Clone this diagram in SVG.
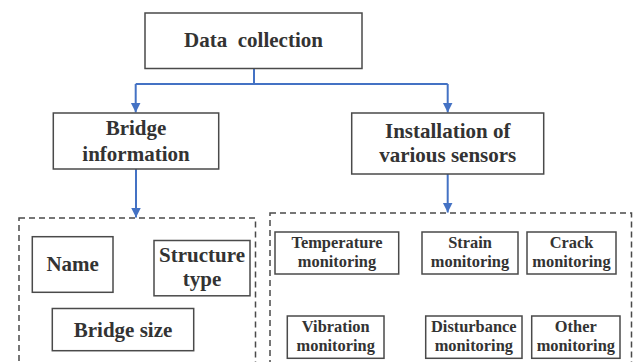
<svg xmlns="http://www.w3.org/2000/svg" width="633" height="362" viewBox="0 0 633 362">
  <style>
    .box { fill: #ffffff; stroke: #4a4a4a; stroke-width: 1.5; }
    .group { fill: none; stroke: #4a4a4a; stroke-width: 1.5; stroke-dasharray: 6 4; }
    .link { fill: none; stroke: #4472c4; stroke-width: 2; }
    text { font-family: "Liberation Serif", "Times New Roman", serif; font-weight: bold; fill: #333333; text-anchor: middle; }
    .big { font-size: 21px; }
    .small { font-size: 16.4px; }
  </style>
  <defs>
    <marker id="arrow" viewBox="0 0 10 12" refX="10" refY="6" markerWidth="10" markerHeight="12" markerUnits="userSpaceOnUse" orient="auto">
      <path d="M0,1 L10,6 L0,11 Z" fill="#4472c4"/>
    </marker>
  </defs>

  <rect width="633" height="362" fill="#ffffff"/>

  <!-- dashed grouping frames (open at the bottom edge) -->
  <g id="frames">
    <rect class="group" x="19" y="218" width="236.5" height="160"/>
    <rect class="group" x="270" y="213" width="361.5" height="165"/>
  </g>

  <!-- connectors -->
  <g id="connectors">
    <path class="link" d="M254,68.5 V84 M135.7,84 H447.7"/>
    <path class="link" d="M135.7,84 V112.5" marker-end="url(#arrow)"/>
    <path class="link" d="M447.7,84 V112.5" marker-end="url(#arrow)"/>
    <path class="link" d="M136,169 V217.5" marker-end="url(#arrow)"/>
    <path class="link" d="M447.7,174 V212.5" marker-end="url(#arrow)"/>
  </g>

  <g id="data-collection">
    <rect class="box" x="145" y="13" width="217" height="55.5"/>
    <text class="big" x="253.5" y="47" xml:space="preserve">Data  collection</text>
  </g>

  <g id="bridge-information">
    <rect class="box" x="53.3" y="113" width="165.4" height="56"/>
    <text class="big" x="136" y="135">Bridge</text>
    <text class="big" x="136" y="160.5">information</text>
  </g>

  <g id="sensor-installation">
    <rect class="box" x="351.7" y="113" width="192" height="61"/>
    <text class="big" x="447.7" y="137.5">Installation of</text>
    <text class="big" x="447.7" y="162">various sensors</text>
  </g>

  <g id="name">
    <rect class="box" x="32.3" y="236.7" width="80.7" height="55.6"/>
    <text class="big" x="72.7" y="271">Name</text>
  </g>

  <g id="structure-type">
    <rect class="box" x="154" y="240.5" width="96" height="55.3"/>
    <text class="big" x="202" y="262">Structure</text>
    <text class="big" x="202" y="286">type</text>
  </g>

  <g id="bridge-size">
    <rect class="box" x="52.3" y="308.5" width="141.4" height="42.2"/>
    <text class="big" x="123" y="336.5">Bridge size</text>
  </g>

  <g id="temperature">
    <rect class="box" x="275" y="232" width="123.7" height="42"/>
    <text class="small" x="337" y="248.3">Temperature</text>
    <text class="small" x="337" y="266.7">monitoring</text>
  </g>

  <g id="strain">
    <rect class="box" x="422" y="232" width="96" height="42"/>
    <text class="small" x="470" y="248.3">Strain</text>
    <text class="small" x="470" y="266.7">monitoring</text>
  </g>

  <g id="crack">
    <rect class="box" x="527" y="232" width="89" height="42"/>
    <text class="small" x="571.5" y="248.3">Crack</text>
    <text class="small" x="571.5" y="266.7">monitoring</text>
  </g>

  <g id="vibration">
    <rect class="box" x="287.3" y="316" width="96.7" height="42.3"/>
    <text class="small" x="335.7" y="331.7">Vibration</text>
    <text class="small" x="335.7" y="350.7">monitoring</text>
  </g>

  <g id="disturbance">
    <rect class="box" x="425.7" y="316" width="96.3" height="42.3"/>
    <text class="small" x="473.8" y="331.7">Disturbance</text>
    <text class="small" x="473.8" y="350.7">monitoring</text>
  </g>

  <g id="other">
    <rect class="box" x="531.7" y="316" width="88.3" height="42.3"/>
    <text class="small" x="575.8" y="331.7">Other</text>
    <text class="small" x="575.8" y="350.7">monitoring</text>
  </g>
</svg>
